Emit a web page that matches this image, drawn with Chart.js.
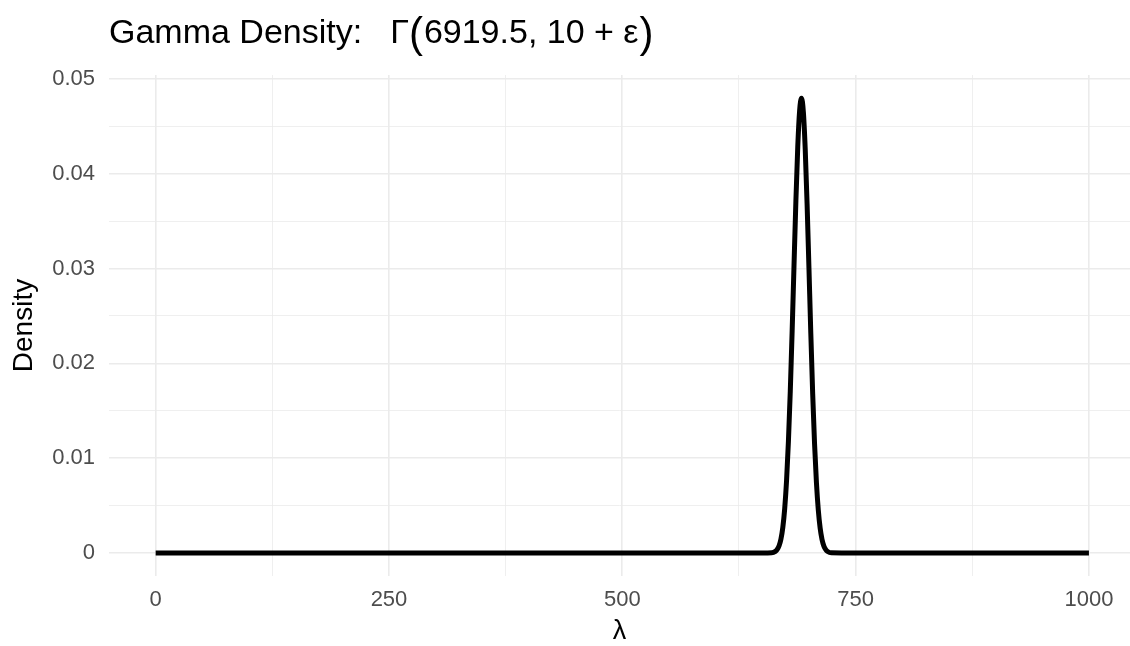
<!DOCTYPE html>
<html>
<head>
<meta charset="utf-8">
<script src="https://cdn.jsdelivr.net/npm/chart.js@4/dist/chart.umd.min.js"></script>
<style>
    html, body { margin: 0; padding: 0; background: #fff; }
    #wrap { width: 1130px; height: 646px; position: relative; }
</style>
</head>
<body>
<div id="wrap"><canvas id="chart"></canvas></div>
<script>
// --- Data ---
const lambdaValues = [0, 250, 500, 650, 660, 664, 666, 668, 670, 672, 674, 676, 678, 680, 682, 684, 686, 688,
    690, 692, 694, 696, 698, 700, 702, 704, 706, 708, 710, 712, 714, 716, 718, 720, 724, 750, 1000];
const densityValues = [0, 0, 0, 0, 0.00002, 0.00017, 0.00037, 0.00076, 0.00148, 0.0027, 0.00467, 0.00763, 0.01176,
    0.01708, 0.02345, 0.03037, 0.03713, 0.04284, 0.04666, 0.04796, 0.04653, 0.0426, 0.03682, 0.03003, 0.02312,
    0.01679, 0.01152, 0.00745, 0.00455, 0.00262, 0.00143, 0.00073, 0.00036, 0.00016, 0.00002, 0, 0];

const xTickValues = [0, 125, 250, 375, 500, 625, 750, 875, 1000];
const xTickLabels = ['0', '', '250', '', '500', '', '750', '', '1000'];
const yTickValues = [0, 0.005, 0.01, 0.015, 0.02, 0.025, 0.03, 0.035, 0.04, 0.045, 0.05];
const yTickLabels = ['0', '', '0.01', '', '0.02', '', '0.03', '', '0.04', '', '0.05'];

const FONT = 'Liberation Sans, Arial, Helvetica, sans-serif';
const gridColor = '#ebebeb';

// title drawn piece by piece so the parentheses can be taller
const titlePlugin = {
    id: 'ggTitle',
    afterDraw(chart) {
        const ctx = chart.ctx;
        ctx.save();
        ctx.fillStyle = '#000';
        ctx.textBaseline = 'alphabetic';
        const y = 43;
        const parts = [
            { t: 'Gamma Density:', size: 34, gap: 28 },
            { t: '\u0393', size: 34, gap: 0 },
            { t: '(', size: 42, gap: 1 },
            { t: '6919.5, 10 + \u03b5', size: 34, gap: 1 },
            { t: ')', size: 42, gap: 0 }
        ];
        let x = 109;
        parts.forEach(p => {
            ctx.font = p.size + 'px ' + FONT;
            ctx.fillText(p.t, x, p.size > 34 ? y + 4 : y);
            x += ctx.measureText(p.t).width + p.gap;
        });
        ctx.restore();
    }
};

const tickFilter = (values) => (scale) => {
    scale.ticks = values.map(v => ({ value: v }));
};

new Chart(document.getElementById('chart'), {
    type: 'line',
    data: {
        datasets: [{
            data: lambdaValues.map((x, i) => ({ x: x, y: densityValues[i] })),
            borderColor: '#000',
            borderWidth: 5,
            pointRadius: 0,
            fill: false,
            cubicInterpolationMode: 'monotone'
        }]
    },
    options: {
        responsive: true,
        maintainAspectRatio: false,
        animation: false,
        layout: { padding: { top: 75, right: 0, left: 0, bottom: 0 } },
        plugins: {
            legend: { display: false },
            tooltip: { enabled: false }
        },
        scales: {
            x: {
                type: 'linear',
                min: -50,
                max: 1044,
                afterBuildTicks: tickFilter(xTickValues),
                afterFit(scale) { scale.height = 70; },
                border: { display: false },
                grid: {
                    color: gridColor,
                    drawTicks: false,
                    lineWidth: c => (c.tick && c.tick.value % 250 === 0) ? 1.6 : 0.8
                },
                ticks: {
                    padding: 11,
                    color: '#4d4d4d',
                    font: { family: FONT, size: 22 },
                    callback: (v, i) => xTickLabels[i]
                },
                title: {
                    display: true,
                    text: '\u03bb',
                    color: '#000',
                    font: { family: FONT, size: 27, lineHeight: 1.1 },
                    padding: { top: 0, bottom: 0 }
                }
            },
            y: {
                min: -0.00243,
                max: 0.05042,
                afterBuildTicks: tickFilter(yTickValues),
                afterFit(scale) { scale.width = 109; },
                border: { display: false },
                grid: {
                    color: gridColor,
                    drawTicks: false,
                    lineWidth: c => (c.tick && Math.round(c.tick.value * 1000) % 10 === 0) ? 1.6 : 0.8
                },
                ticks: {
                    padding: 14,
                    color: '#4d4d4d',
                    font: { family: FONT, size: 22 },
                    callback: (v, i) => yTickLabels[i]
                },
                title: {
                    display: true,
                    text: 'Density',
                    color: '#000',
                    font: { family: FONT, size: 28 },
                    padding: { top: 7, bottom: 0 }
                }
            }
        }
    },
    plugins: [titlePlugin]
});
</script>
</body>
</html>
